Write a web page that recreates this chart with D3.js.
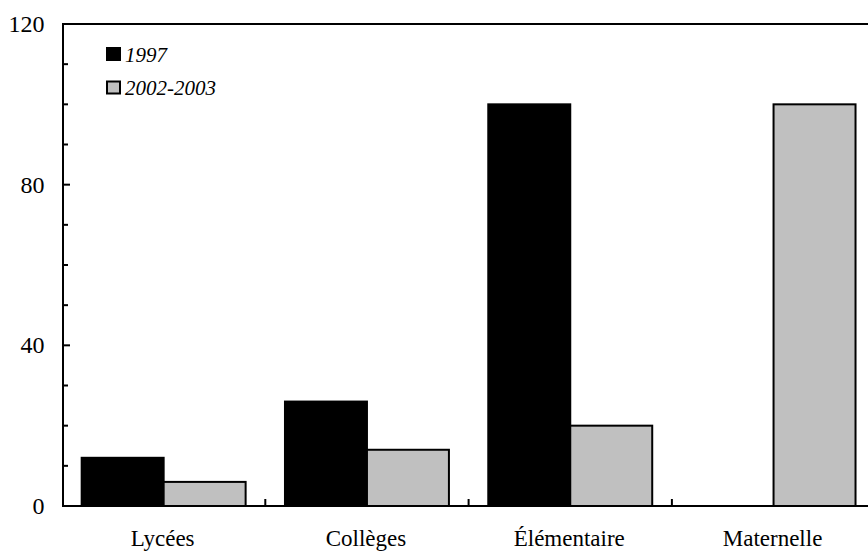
<!DOCTYPE html>
<html><head><meta charset="utf-8">
<script src="https://cdn.jsdelivr.net/npm/d3@7"></script>
<style>body{margin:0;background:#fff}svg{display:block}</style>
</head><body>
<script>
const categories = ["Lycées", "Collèges", "Élémentaire", "Maternelle"];
const seriesNames = ["1997", "2002-2003"];
const values1997 = [12, 26, 100, 0];
const values2002 = [6, 14, 20, 100];
const yTicks = [0, 40, 80, 120];
const colors = ["#000000", "#c0c0c0"];

const W = 868, H = 552;
const svg = d3.select("body").append("svg").attr("width", W).attr("height", H);
const x0 = d3.scaleBand().domain(categories).range([62, 62 + 4 * 203.3]).paddingInner(0).paddingOuter(0);
const x1 = d3.scaleBand().domain(seriesNames).range([0, x0.bandwidth()]).paddingInner(0).paddingOuter(0.24);
const y = d3.scaleLinear().domain([0, 120]).range([506, 24]);
const font = "'Liberation Serif','Times New Roman',serif";

const data = categories.map((c, i) => ({cat: c, vals: [values1997[i], values2002[i]]}));

// bars
const g = svg.append("g");
data.forEach(d => {
  d.vals.forEach((v, j) => {
    g.append("rect")
      .attr("x", x0(d.cat) + x1(seriesNames[j]))
      .attr("y", y(v))
      .attr("width", x1.bandwidth())
      .attr("height", y(0) - y(v))
      .attr("fill", colors[j])
      .attr("stroke", "#000").attr("stroke-width", 2);
  });
});

// top border
svg.append("line").attr("x1", 62).attr("x2", W + 10).attr("y1", y(120)).attr("y2", y(120))
  .attr("stroke", "#000").attr("stroke-width", 2);

// y axis
svg.append("line").attr("x1", 63).attr("x2", 63).attr("y1", y(120) - 1).attr("y2", y(0) + 1)
  .attr("stroke", "#000").attr("stroke-width", 2);
const minor = d3.range(10, 120, 10);
minor.forEach(t => {
  const major = t % 40 === 0;
  svg.append("line").attr("x1", 63).attr("x2", major ? 70 : 68).attr("y1", y(t)).attr("y2", y(t))
    .attr("stroke", "#000").attr("stroke-width", 2);
});
yTicks.forEach(t => {
  svg.append("text").attr("x", 44.5).attr("y", y(t)).attr("dy", "0.33em")
    .attr("text-anchor", "end").attr("font-family", font).attr("font-size", 24).text(t);
});

// x axis
svg.append("line").attr("x1", 62).attr("x2", W + 10).attr("y1", y(0)).attr("y2", y(0))
  .attr("stroke", "#000").attr("stroke-width", 2);
categories.slice(1).forEach(c => {
  svg.append("line").attr("x1", x0(c)).attr("x2", x0(c)).attr("y1", y(0)).attr("y2", y(0) - 7)
    .attr("stroke", "#000").attr("stroke-width", 2);
});
categories.forEach(c => {
  svg.append("text").attr("x", x0(c) + x0.bandwidth() / 2 - 1).attr("y", 546)
    .attr("text-anchor", "middle").attr("font-family", font).attr("font-size", 23).text(c);
});

// legend
seriesNames.forEach((s, i) => {
  const ly = 48 + i * 33.5;
  svg.append("rect").attr("x", 107).attr("y", ly).attr("width", 13).attr("height", 12)
    .attr("fill", colors[i]).attr("stroke", "#000").attr("stroke-width", 2);
  svg.append("text").attr("x", 125).attr("y", ly + 13.5).attr("font-family", font)
    .attr("font-style", "italic").attr("font-size", 21).text(s);
});
</script>
</body></html>
